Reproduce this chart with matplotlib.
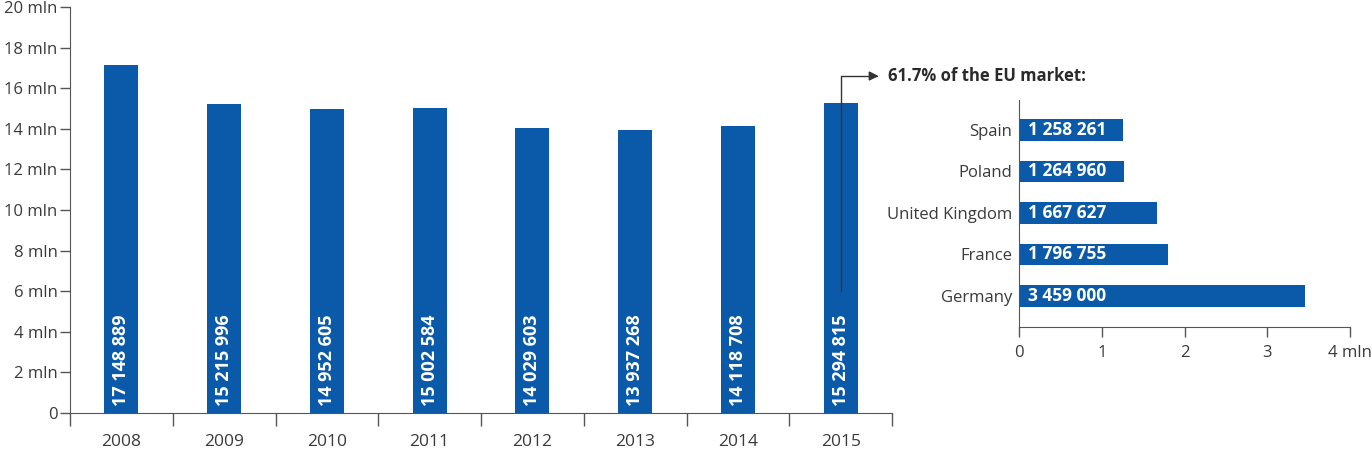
import matplotlib
matplotlib.use("Agg")
import matplotlib.pyplot as plt
import numpy as np

plt.rcParams['font.family'] = ['Open Sans', 'DejaVu Sans']

years = ['2008', '2009', '2010', '2011', '2012', '2013', '2014', '2015']
sales = [17148889, 15215996, 14952605, 15002584, 14029603, 13937268, 14118708, 15294815]
sales_labels = ['17 148 889', '15 215 996', '14 952 605', '15 002 584',
                '14 029 603', '13 937 268', '14 118 708', '15 294 815']

countries = ['Germany', 'France', 'United Kingdom', 'Poland', 'Spain']
country_sales = [3459000, 1796755, 1667627, 1264960, 1258261]
country_labels = ['3 459 000', '1 796 755', '1 667 627', '1 264 960', '1 258 261']

y_ticks = [0, 2, 4, 6, 8, 10, 12, 14, 16, 18, 20]
y_ticklabels = ['0'] + [f'{v} mln' for v in y_ticks[1:]]
x2_ticks = [0, 1, 2, 3, 4]
x2_ticklabels = ['0', '1', '2', '3', '4 mln']
annotation_text = '61.7% of the EU market:'

BLUE = '#0b5aa9'
AXC = '#555555'
TXT = '#3a3a3a'

fig = plt.figure(figsize=(13.72, 4.59), dpi=100)

# ---- Left chart ----
ax = fig.add_axes([70/1372, 46/459, 822/1372, 406/459])
x = np.arange(len(years))
vals = np.array(sales) / 1e6
ax.bar(x, vals, width=0.33, color=BLUE, zorder=2)
for xi, lab in zip(x, sales_labels):
    ax.text(xi, 0.35, lab, rotation=90, ha='center', va='bottom', color='white',
            fontsize=13, fontweight='bold', zorder=3)
ax.set_xlim(-0.5, len(years) - 0.5)
ax.set_ylim(0, 20)
ax.set_yticks(y_ticks)
ax.set_yticklabels(y_ticklabels, fontsize=12, color=TXT)
ax.set_xticks(x)
ax.set_xticklabels(years, fontsize=12.5, color=TXT)
ax.set_xticks(np.arange(-0.5, len(years)), minor=True)
ax.tick_params(axis='x', which='major', length=0, pad=15)
ax.tick_params(axis='x', which='minor', length=9, direction='out', color=AXC, width=1)
ax.tick_params(axis='y', length=7, color=AXC, width=1, pad=2)
for s in ['top', 'right']:
    ax.spines[s].set_visible(False)
for s in ['left', 'bottom']:
    ax.spines[s].set_color(AXC)
ax.annotate('', xy=(len(years) - 1 + 0.37, 16.6), xytext=(len(years) - 1, 6.0),
            arrowprops=dict(arrowstyle='-|>', color='#333333', lw=1,
                            connectionstyle='angle,angleA=90,angleB=0,rad=0',
                            mutation_scale=14, shrinkA=0, shrinkB=0),
            annotation_clip=False, zorder=4)
ax.text(len(years) - 1 + 0.46, 16.6, annotation_text, fontsize=12, fontweight='bold',
        color='#2a2a2a', ha='left', va='center', clip_on=False)

# ---- Right chart ----
ax2 = fig.add_axes([1019/1372, 132/459, 331/1372, 227/459])
y = np.arange(len(countries))
ax2.barh(y, np.array(country_sales) / 1e6, height=0.52, color=BLUE, zorder=2)
for yi, lab in zip(y, country_labels):
    ax2.text(0.11, yi, lab, ha='left', va='center', color='white', fontsize=12.5,
             fontweight='bold', zorder=3)
ax2.set_xlim(0, 4)
ax2.set_ylim(-0.75, len(countries) - 1 + 0.72)
ax2.set_yticks(y)
ax2.set_yticklabels(countries, fontsize=12, color=TXT)
ax2.tick_params(axis='y', length=0, pad=5)
ax2.set_xticks(x2_ticks)
ax2.set_xticklabels(x2_ticklabels, fontsize=12, color=TXT)
ax2.tick_params(axis='x', length=7, color=AXC, width=1, pad=6)
for s in ['top', 'right']:
    ax2.spines[s].set_visible(False)
for s in ['left', 'bottom']:
    ax2.spines[s].set_color(AXC)

fig.savefig('out.png', dpi=100)
